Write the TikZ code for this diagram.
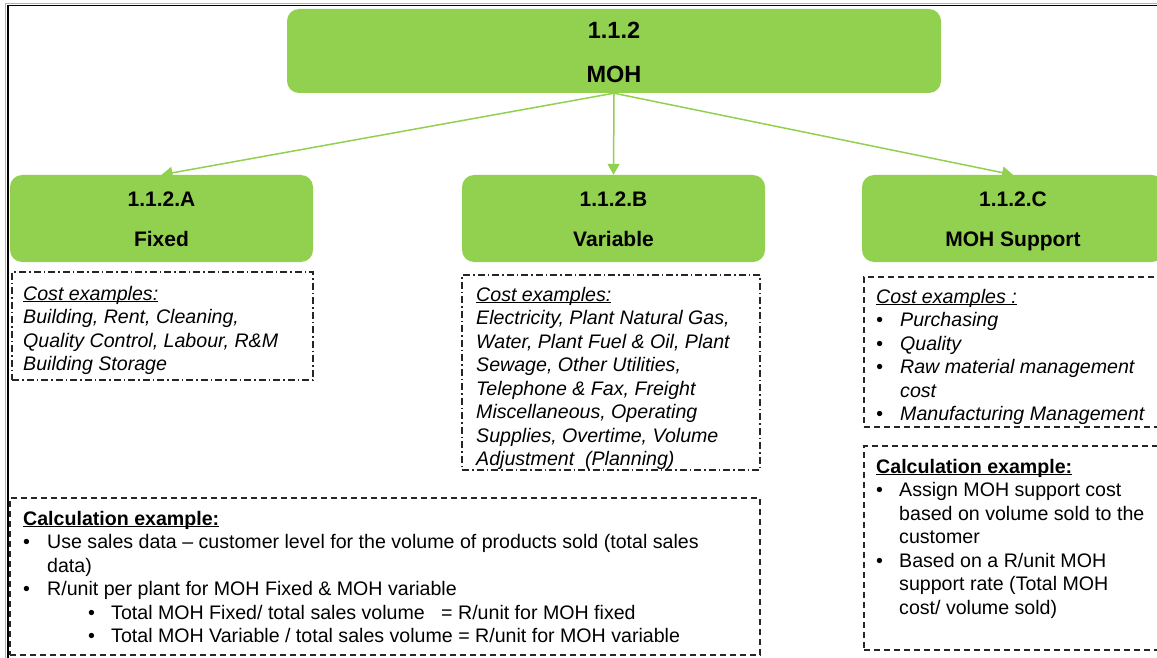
\documentclass[tikz,border=0pt]{standalone}
\usepackage{fontspec}
\setmainfont{Liberation Sans}
\usetikzlibrary{arrows.meta}
\definecolor{mohgreen}{HTML}{92D050}
\newcommand{\bul}{\makebox[24pt][l]{\textbullet}}
\newcommand{\bulc}{\makebox[23pt][l]{\textbullet}}
% underline drawn close to the baseline
\newlength\ulwidth
\newcommand{\ulc}[1]{\settowidth{\ulwidth}{#1}\makebox[0pt][l]{\rule[-2.3pt]{\ulwidth}{1pt}}#1}
\begin{document}
\begin{tikzpicture}[x=1pt,y=-1pt,
  greenbox/.style={fill=mohgreen, draw=none, rounded corners=12pt, inner sep=0pt},
  titletext/.style={inner sep=0pt, align=center, yshift=-3pt,
    font=\bfseries\fontsize{21}{40}\selectfont},
  toptitle/.style={inner sep=0pt, align=center, yshift=-1pt,
    font=\bfseries\fontsize{23.5}{44}\selectfont},
  linkarrow/.style={draw=mohgreen, line width=1.5pt, -{Triangle[length=11pt,width=12pt]}},
  dashdotframe/.style={draw=black!85, line width=1.2pt, inner sep=0pt,
    dash pattern=on 7pt off 3pt on 1.5pt off 3pt},
  dashframe/.style={draw=black!85, line width=1.2pt, inner sep=0pt,
    dash pattern=on 6pt off 4pt},
  bodytext/.style={anchor=north west, inner sep=0pt, align=left,
    font=\fontsize{19.6}{23.5}\selectfont},
  italictext/.style={bodytext, font=\fontsize{19.6}{23.5}\selectfont\itshape}]
\useasboundingbox (0,0) rectangle (1157,658);
\clip (0,0) rectangle (1157,658);

% page frame
\draw[gray!60, line width=1pt] (5.8,3.6) rectangle (1200,700);
\draw[black, line width=1.5pt] (8,5.6) rectangle (1200,700);

% headings
\node[greenbox, minimum width=654pt, minimum height=84pt] (moh) at (614,51) {};
\node[greenbox, minimum width=303pt, minimum height=87pt] (fixA) at (161.5,218.5) {};
\node[greenbox, minimum width=303pt, minimum height=87pt] (varB) at (613.5,218.5) {};
\node[greenbox, minimum width=302pt, minimum height=87pt] (supC) at (1013,218.5) {};

\node[toptitle] (mohtitle) at (moh.center) {1.1.2\\MOH};
\node[titletext] (fixAtitle) at (fixA.center) {1.1.2.A\\Fixed\vphantom{p}};
\node[titletext] (varBtitle) at (varB.center) {1.1.2.B\\Variable\vphantom{p}};
\node[titletext] (supCtitle) at (supC.center) {1.1.2.C\\MOH Support};

\draw[linkarrow] (moh.south) -- (fixA.north);
\draw[linkarrow] (moh.south) -- (varB.north);
\draw[linkarrow] (moh.south) -- (supC.north);

% frames
\node[dashdotframe, minimum width=301pt, minimum height=108pt] (fixAframe) at (162.5,326) {};
\node[dashdotframe, minimum width=298pt, minimum height=195pt] (varBframe) at (611,372.5) {};
\node[dashframe, minimum width=300pt, minimum height=150pt] (supCframe) at (1014,352) {};
\node[dashframe, minimum width=300pt, minimum height=204pt] (supCcalcframe) at (1014,548) {};
\node[dashframe, minimum width=750pt, minimum height=157pt] (calcframe) at (385,576.5) {};

% cost examples
\node[italictext] (fixAtext) at (23,283.5) {\strut\ulc{Cost examples:}\\
Building, Rent, Cleaning,\\
Quality Control, Labour, R\&M\\
Building Storage};

\node[italictext] (varBtext) at (476,284.5) {\strut\ulc{Cost examples:}\\
Electricity, Plant Natural Gas,\\
Water, Plant Fuel \& Oil, Plant\\
Sewage, Other Utilities,\\
Telephone \& Fax, Freight\\
Miscellaneous, Operating\\
Supplies, Overtime, Volume\\
Adjustment\ \ (Planning)};

\node[italictext] (supCtext) at (876,286.5) {\strut\ulc{Cost examples :}\\
\bul Purchasing\\
\bul Quality\\
\bul Raw material management\\
\hspace*{24pt}cost\\
\bul Manufacturing Management};

% calculation examples
\node[bodytext] (supCcalc) at (876,456.5) {\strut\textbf{\ulc{Calculation example:}}\\
\bulc Assign MOH support cost\\
\hspace*{23pt}based on volume sold to the\\
\hspace*{23pt}customer\\
\bulc Based on a R/unit MOH\\
\hspace*{23pt}support rate (Total MOH\\
\hspace*{23pt}cost/ volume sold)};

\node[bodytext] (calctext) at (23,508.5) {\strut\textbf{\ulc{Calculation example:}}\\
\bul Use sales data -- customer level for the volume of products sold (total sales\\
\hspace*{24pt}data)\\
\bul R/unit per plant for MOH Fixed \& MOH variable\\
\hspace*{65pt}\bulc Total MOH Fixed/ total sales volume\ \ \ = R/unit for MOH fixed\\
\hspace*{65pt}\bulc Total MOH Variable / total sales volume = R/unit for MOH variable};
\end{tikzpicture}
\end{document}
